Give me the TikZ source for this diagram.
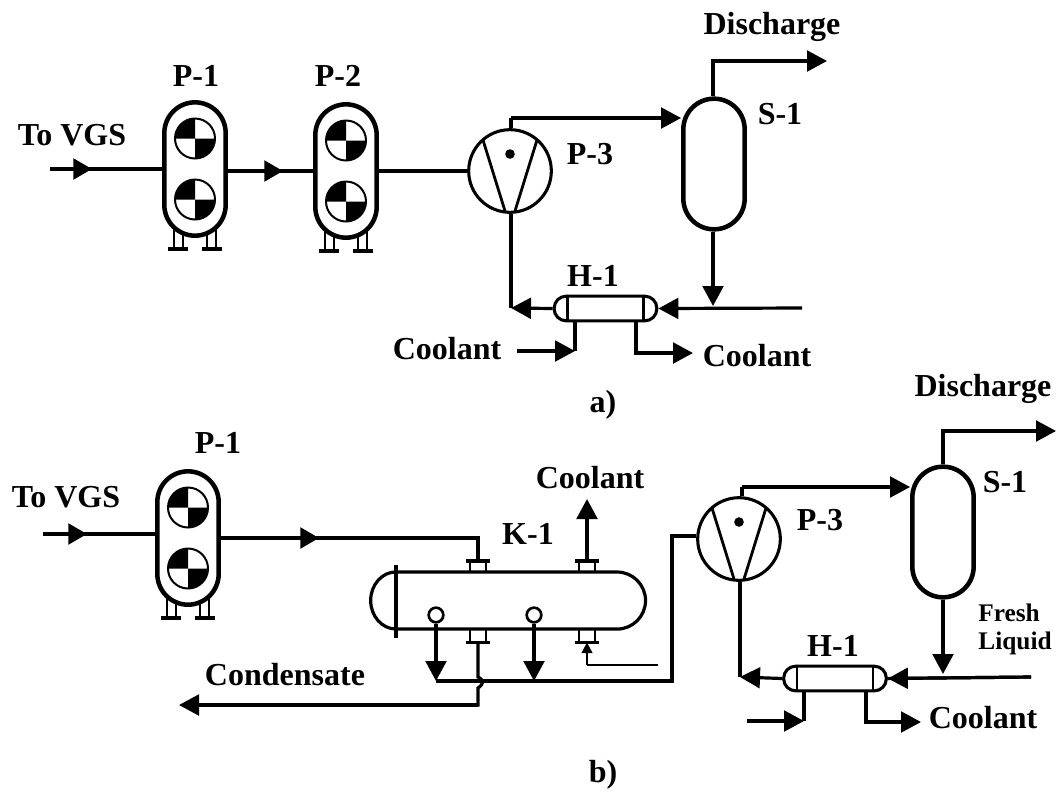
\documentclass[tikz,border=0pt]{standalone}
\usepackage{fontspec}
\setmainfont{Liberation Serif}
\usetikzlibrary{arrows.meta,calc}
\tikzset{
 x=0.75pt,y=-0.75pt,
 pipe/.style={line width=2.4pt},
 thinpipe/.style={line width=1.3pt},
 flow/.style={pipe,-{Triangle[length=15pt,width=15.5pt]}},
 midflow/.style={pipe,-{Triangle[length=14pt,width=15.5pt]}},
 thinflow/.style={thinpipe,-{Triangle[length=8pt,width=8pt]}},
 vessel/.style={draw,line width=3.4pt,rounded corners=23pt,minimum width=46pt,inner sep=0pt,fill=white},
 hx/.style={draw,line width=2.3pt,rounded corners=9pt,minimum width=77pt,minimum height=18.5pt,inner sep=0pt,fill=white},
 lab/.style={font=\bfseries\fontsize{24pt}{26pt}\selectfont,inner sep=0pt},
 smalllab/.style={font=\bfseries\fontsize{19pt}{22pt}\selectfont,inner sep=0pt},
 pumpc/.style={circle,draw,line width=2.3pt,minimum size=62pt,inner sep=0pt},
}
% mixer vessel: name, centre, height
\newcommand{\mixvessel}[3]{%
 \coordinate (#1c) at (#2);
 \foreach \dx in {-21,-12,12,21}
  \draw[line width=2pt] ($(#1c)+(\dx,60)$) -- ++(0,20);
 \foreach \dx in {-17,17}
  \draw[line width=2.8pt] ($(#1c)+(\dx-10,80)$) -- ++(20,0);
 \node[vessel,minimum height=#3] (#1) at (#1c) {};
 \foreach \s/\d in {u/-30.5,l/30.5}{
  \coordinate (#1\s) at ($(#1c)+(0,\d)$);
  \fill (#1\s) -- ++(-20,0) arc[start angle=180,end angle=90,radius=15pt] -- cycle;
  \fill (#1\s) -- ++(20,0) arc[start angle=0,end angle=-90,radius=15pt] -- cycle;
  \draw[line width=1.5pt] (#1\s) circle (15pt);
 }
}
% pump: name, centre
\newcommand{\pumpsym}[2]{%
 \node[pumpc] (#1) at (#2) {};
 \draw[line width=2.1pt] ($(#1)+(-27,-31)$) -- ($(#1)+(-5,40)$);
 \draw[line width=2.1pt] ($(#1)+(27,-31)$) -- ($(#1)+(5,40)$);
 \fill ($(#1)+(0,-17)$) circle (3.6pt);
}
% heat exchanger: name, centre
\newcommand{\hxsym}[2]{%
 \node[hx] (#1) at (#2) {};
 \draw[line width=2pt] ($(#1.north)+(-38,0)$) -- ($(#1.south)+(-38,0)$);
 \draw[line width=2pt] ($(#1.north)+(38,0)$) -- ($(#1.south)+(38,0)$);
}
% nozzle on K-1: name, base point, sign direction
\newcommand{\nozzle}[3]{%
 \coordinate (#1b) at (#2);
 \coordinate (#1) at ($(#1b)+(0,#3*13)$);
 \draw[line width=2pt] ($(#1b)+(-8,0)$) -- ($(#1)+(-8,0)$) ($(#1b)+(8,0)$) -- ($(#1)+(8,0)$);
 \draw[line width=2.5pt] ($(#1)+(-12,0)$) -- ($(#1)+(12,0)$);
}
\begin{document}
\begin{tikzpicture}
\useasboundingbox (0,0) rectangle (1056,794);
% ---------- a) ----------
\mixvessel{A1}{195,169}{100pt}
\mixvessel{A2}{346,171}{100pt}
\pumpsym{A3}{510,171}
\node[vessel,minimum height=98pt] (AS) at (714,164) {};
\hxsym{AH}{605.5,308.5}
\node[lab] (tA1) at (196,76) {P-1};
\node[lab] (tA2) at (338,76) {P-2};
\node[lab] (tA3) at (590,154) {P-3};
\node[lab] (tAS) at (780,114) {S-1};
\node[lab] (tAH) at (593,276) {H-1};
\node[lab] (tAV) at (72,135) {To VGS};
\node[lab] (tAD) at (772,27) {Discharge};
\node[lab] (tAC1) at (447,349) {Coolant};
\node[lab] (tAC2) at (757,356) {Coolant};
\node[lab] (tAa) at (603,405) {a)};
\coordinate (a0) at (50,169);
\coordinate (a0m) at (92,169);
\coordinate (a1m) at (283,171);
\coordinate (a2) at (511,118);
\coordinate (a3) at (713,61);
\coordinate (a3e) at (827,61);
\coordinate (a4) at (511,308);
\coordinate (a5) at (802,308);
\coordinate (a6) at (713,306);
\coordinate (a7) at (517,351);
\coordinate (a7e) at (575,351);
\coordinate (a8) at (636,353);
\coordinate (a8e) at (693,353);
\draw[pipe] (a0) -- (A1.west |- a0);
\draw[midflow] (a0) -- (a0m);
\draw[pipe] (A1.east |- a1m) -- (A2.west |- a1m);
\draw[midflow] (A1.east |- a1m) -- (a1m);
\draw[pipe] (A2.east |- A3.west) -- (A3.west);
\draw[pipe] (A3.north -| a2) -- (a2);
\draw[flow] (a2) -- (AS.west |- a2);
\draw[flow] (AS.north -| a3) -- (a3) -- (a3e);
\draw[flow] (AS.south -| a6) -- (a6);
\draw[flow] (a5) -- (AH.east);
\draw[pipe] (A3.south -| a4) -- (a4);
\draw[flow] (AH.west) -- (a4);
\draw[flow] (a7) -- (a7e);
\draw[pipe] (a7e) -- (a7e |- AH.south);
\draw[flow] (a8 |- AH.south) -- (a8) -- (a8e);
% ---------- b) ----------
\mixvessel{B1}{188,538}{100pt}
\pumpsym{B3}{739,539}
\node[vessel,minimum height=98pt] (BS) at (943,532) {};
\hxsym{BH}{835,678.5}
% K-1 shell
\draw[line width=2.4pt] (396,572) -- (617,572) arc[start angle=90,end angle=-90,radius=21.4pt] -- (396,629) arc[start angle=270,end angle=90,x radius=19pt,y radius=21.4pt];
\draw[line width=2.8pt] (396,565) -- (396,638);
\node[draw,circle,line width=2pt,minimum size=11pt,inner sep=0pt] (c1) at (436,615) {};
\node[draw,circle,line width=2pt,minimum size=11pt,inner sep=0pt] (c2) at (534,615) {};
\nozzle{n1}{478,572}{-0.85}
\nozzle{n2}{587,572}{-0.85}
\nozzle{n3}{478,630}{0.95}
\nozzle{n4}{587,630}{0.95}
\node[lab] (tB1) at (218,443) {P-1};
\node[lab] (tBK) at (528,534) {K-1};
\node[lab] (tB3) at (820,520) {P-3};
\node[lab] (tBS) at (1005,482) {S-1};
\node[lab] (tBH) at (833,646) {H-1};
\node[lab] (tBV) at (66,497) {To VGS};
\node[lab] (tBD) at (983,389) {Discharge};
\node[lab] (tBC) at (590,478) {Coolant};
\node[lab] (tBC2) at (983,718) {Coolant};
\node[lab] (tBCo) at (285,675) {Condensate};
\node[smalllab] (tBF) at (1009,613) {Fresh};
\node[smalllab] (tBL) at (1015,643) {Liquid};
\node[lab] (tBb) at (603,775) {b)};
\coordinate (b0) at (43,534);
\coordinate (b0m) at (87,534);
\coordinate (b1m) at (319,538);
\coordinate (b1c) at (478,538);
\coordinate (b2) at (587,499);
\coordinate (b3) at (478,705);
\coordinate (b3e) at (179,705);
\coordinate (b4a) at (436,681);
\coordinate (b4b) at (534,681);
\coordinate (b4c) at (672,681);
\coordinate (b4d) at (672,536);
\coordinate (b5s) at (658,665);
\coordinate (b5c) at (587,665);
\coordinate (b6) at (742,487);
\coordinate (b7) at (943,431);
\coordinate (b7e) at (1056,431);
\coordinate (b8) at (943,674);
\coordinate (b9) at (1031,677);
\coordinate (b10) at (740,677);
\coordinate (b11) at (747,721);
\coordinate (b11e) at (804,721);
\coordinate (b12) at (866,722);
\coordinate (b12e) at (921,722);
\draw[pipe] (b0) -- (B1.west |- b0);
\draw[midflow] (b0) -- (b0m);
\draw[pipe] (B1.east |- b1m) -- (b1c) -- (n1);
\draw[midflow] (B1.east |- b1m) -- (b1m);
\draw[flow] (n2) -- (b2);
\draw[flow] (c1) -- (b4a);
\draw[flow] (c2) -- (b4b);
\draw[pipe] (b4a) -- (b4c) -- (b4d) -- (B3.west |- b4d);
\draw[pipe] (n3) -- (478,677) .. controls (484,680) and (484,684) .. (478,688) -- (b3) -- ($(b3)+(-60,0)$);
\draw[flow] (b3) -- (b3e);
\draw[thinpipe] (b5s) -- (b5c);
\draw[thinflow] (b5c) -- (n4);
\draw[pipe] (B3.north -| b6) -- (b6);
\draw[flow] (b6) -- (BS.west |- b6);
\draw[flow] (BS.north) -- (b7) -- (b7e);
\draw[flow] (BS.south) -- (b8);
\draw[pipe] (b9) -- (BH.east);
\draw[flow] (b9) -- (BH.east);
\draw[pipe] (B3.south -| b10) -- (b10);
\draw[flow] (BH.west) -- (b10);
\draw[flow] (b11) -- (b11e);
\draw[pipe] (b11e) -- (b11e |- BH.south);
\draw[flow] (b12 |- BH.south) -- (b12) -- (b12e);
\end{tikzpicture}
\end{document}
